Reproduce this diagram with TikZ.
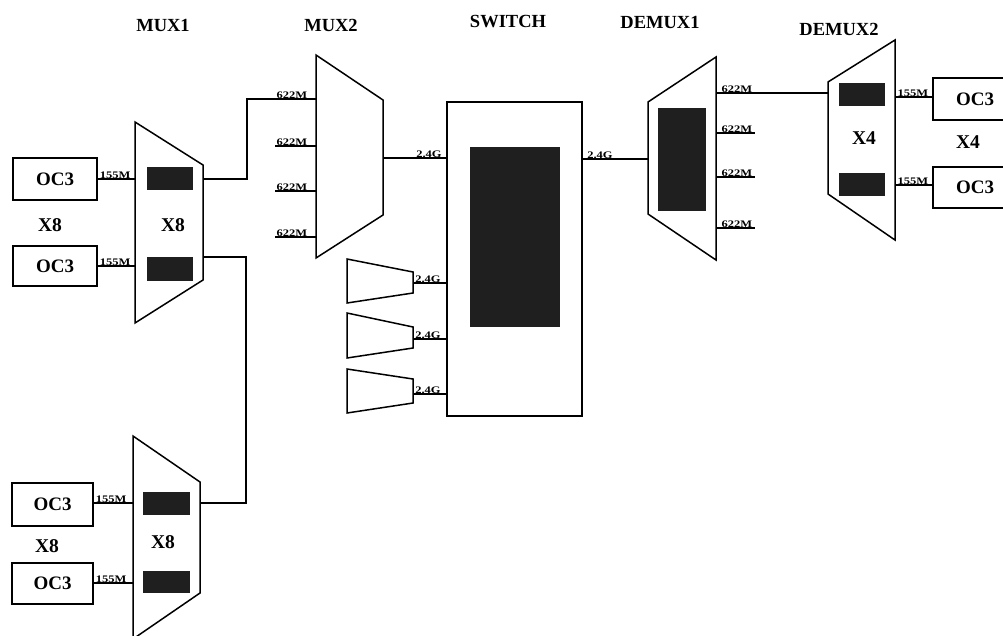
\documentclass[tikz,border=0pt]{standalone}
\usepackage{fontspec}
\setmainfont{Liberation Serif}
\newcommand{\sqz}[1]{\scalebox{1}[0.8]{#1}}
\begin{document}
\begin{tikzpicture}[x=1pt,y=-1pt,
  ln/.style={line width=1.3pt},
  trap/.style={draw, line width=1.5pt, fill=white, line join=miter},
  blk/.style={fill=black!88},
  head/.style={font=\bfseries\fontsize{18.5}{19}\selectfont, inner sep=0pt},
  big/.style={font=\bfseries\fontsize{19.5}{20}\selectfont, inner sep=0pt},
  small/.style={font=\bfseries\fontsize{12.5}{12}\selectfont, inner sep=0.6pt},
  ocbox/.style={draw, line width=1.3pt, minimum width=84pt, minimum height=42pt, inner sep=0pt, font=\bfseries\fontsize{19}{20}\selectfont},
  swbox/.style={draw, line width=1.5pt, inner sep=0pt}]
\clip (0,0) rectangle (1003,635);
\fill[white] (0,0) rectangle (1003,635);

% headings
\node[head] (hmux1) at (163,25) {MUX1};
\node[head] (hmux2) at (331,25) {MUX2};
\node[head] (hsw) at (508,22) {SWITCH};
\node[head] (hdm1) at (660,22) {DEMUX1};
\node[head] (hdm2) at (839,29) {DEMUX2};

% ---------- MUX1 (upper) ----------
\draw[trap] (135,122) -- (203,165) -- (203,280) -- (135,323) -- cycle;
\fill[blk] (147,167) rectangle (193,190);
\fill[blk] (147,257) rectangle (193,281);
\node[big] (x8a) at (173,225) {X8};
\node[big] (x8b) at (50,225) {X8};
\node[ocbox] (oca) at (55,179) {OC3};
\node[ocbox, minimum height=40pt] (ocb) at (55,266) {OC3};
\coordinate (m1ina) at (135,179);
\coordinate (m1inb) at (135,266);
\coordinate (m1outa) at (203,179);
\coordinate (m1outb) at (203,257);
\draw[ln] (oca.east |- m1ina) -- (m1ina);
\draw[ln] (ocb.east |- m1inb) -- (m1inb);
\node[small, anchor=south west] (l155a) at (99,179) {\sqz{155M}};
\node[small, anchor=south west] (l155b) at (99,266) {\sqz{155M}};

% ---------- MUX1 (lower) ----------
\draw[trap] (133,436) -- (200,482) -- (200,593) -- (133,639) -- cycle;
\fill[blk] (143,492) rectangle (190,515);
\fill[blk] (143,571) rectangle (190,593);
\node[big] (x8c) at (163,542) {X8};
\node[big] (x8d) at (47,546) {X8};
\node[ocbox, minimum width=81pt, minimum height=43pt] (occ) at (52.5,504.5) {OC3};
\node[ocbox, minimum width=81pt, minimum height=41pt] (ocd) at (52.5,583.5) {OC3};
\coordinate (m3ina) at (133,503);
\coordinate (m3inb) at (133,583);
\coordinate (m3out) at (200,503);
\draw[ln] (occ.east |- m3ina) -- (m3ina);
\draw[ln] (ocd.east |- m3inb) -- (m3inb);
\node[small, anchor=south west] (l155c) at (95,503) {\sqz{155M}};
\node[small, anchor=south west] (l155d) at (95,583) {\sqz{155M}};

% ---------- MUX2 ----------
\draw[trap] (316,55) -- (383,100) -- (383,215) -- (316,258) -- cycle;
\coordinate (m2ina) at (316,99);
\coordinate (m2inb) at (316,146);
\coordinate (m2inc) at (316,191);
\coordinate (m2ind) at (316,237);
\coordinate (m2out) at (383,158);
\coordinate (sb) at (275,146);
\coordinate (sc) at (275,191);
\coordinate (sd) at (275,237);
\draw[ln] (m1outa) -- (247,179) -- (247,99) -- (m2ina);
\draw[ln] (m1outb) -- (246,257) -- (246,503) -- (m3out);
\draw[ln] (sb) -- (m2inb);
\draw[ln] (sc) -- (m2inc);
\draw[ln] (sd) -- (m2ind);
\node[small, anchor=south] (l622a) at (292,99) {\sqz{622M}};
\node[small, anchor=south] (l622b) at (292,146) {\sqz{622M}};
\node[small, anchor=south] (l622c) at (292,191) {\sqz{622M}};
\node[small, anchor=south] (l622d) at (292,237) {\sqz{622M}};

% ---------- SWITCH ----------
\node[swbox, minimum width=135pt, minimum height=314pt] (sw) at (514.5,259) {};
\fill[blk] (470,147) rectangle (560,327);
\draw[ln] (m2out) -- (m2out -| sw.west);
\node[small, anchor=south] (l24a) at (429,158) {\sqz{2.4G}};

% small muxes
\draw[trap] (347,259) -- (413,272) -- (413,293) -- (347,303) -- cycle;
\draw[trap] (347,313) -- (413,327) -- (413,348) -- (347,358) -- cycle;
\draw[trap] (347,369) -- (413,379) -- (413,403) -- (347,413) -- cycle;
\coordinate (sma) at (413,283);
\coordinate (smb) at (413,339);
\coordinate (smc) at (413,394);
\draw[ln] (sma) -- (sma -| sw.west);
\draw[ln] (smb) -- (smb -| sw.west);
\draw[ln] (smc) -- (smc -| sw.west);
\node[small, anchor=south] (l24b) at (428,283) {\sqz{2.4G}};
\node[small, anchor=south] (l24c) at (428,339) {\sqz{2.4G}};
\node[small, anchor=south] (l24d) at (428,394) {\sqz{2.4G}};

% ---------- DEMUX1 ----------
\draw[trap] (648,102) -- (716,57) -- (716,260) -- (648,214) -- cycle;
\fill[blk] (658,108) rectangle (706,211);
\coordinate (d1in) at (648,159);
\coordinate (d1oa) at (716,93);
\coordinate (d1ob) at (716,133);
\coordinate (d1oc) at (716,177);
\coordinate (d1od) at (716,228);
\coordinate (eb) at (755,133);
\coordinate (ec) at (755,177);
\coordinate (ed) at (755,228);
\draw[ln] (d1in -| sw.east) -- (d1in);
\node[small, anchor=south] (l24e) at (600,159) {\sqz{2.4G}};
\draw[ln] (d1ob) -- (eb);
\draw[ln] (d1oc) -- (ec);
\draw[ln] (d1od) -- (ed);
\node[small, anchor=south] (l622e) at (737,93) {\sqz{622M}};
\node[small, anchor=south] (l622f) at (737,133) {\sqz{622M}};
\node[small, anchor=south] (l622g) at (737,177) {\sqz{622M}};
\node[small, anchor=south] (l622h) at (737,228) {\sqz{622M}};

% ---------- DEMUX2 ----------
\draw[trap] (828,82) -- (895,40) -- (895,240) -- (828,194) -- cycle;
\fill[blk] (839,83) rectangle (885,106);
\fill[blk] (839,173) rectangle (885,196);
\node[big] (x4a) at (864,138) {X4};
\node[big] (x4b) at (968,142) {X4};
\coordinate (d2in) at (828,93);
\coordinate (d2oa) at (895,97);
\coordinate (d2ob) at (895,185);
\draw[ln] (d1oa) -- (d2in);
\node[ocbox] (oce) at (975,99) {OC3};
\node[ocbox, minimum height=41pt] (ocf) at (975,187.5) {OC3};
\draw[ln] (d2oa) -- (d2oa -| oce.west);
\draw[ln] (d2ob) -- (d2ob -| ocf.west);
\node[small, anchor=south] (l155e) at (913,97) {\sqz{155M}};
\node[small, anchor=south] (l155f) at (913,185) {\sqz{155M}};
\end{tikzpicture}
\end{document}
